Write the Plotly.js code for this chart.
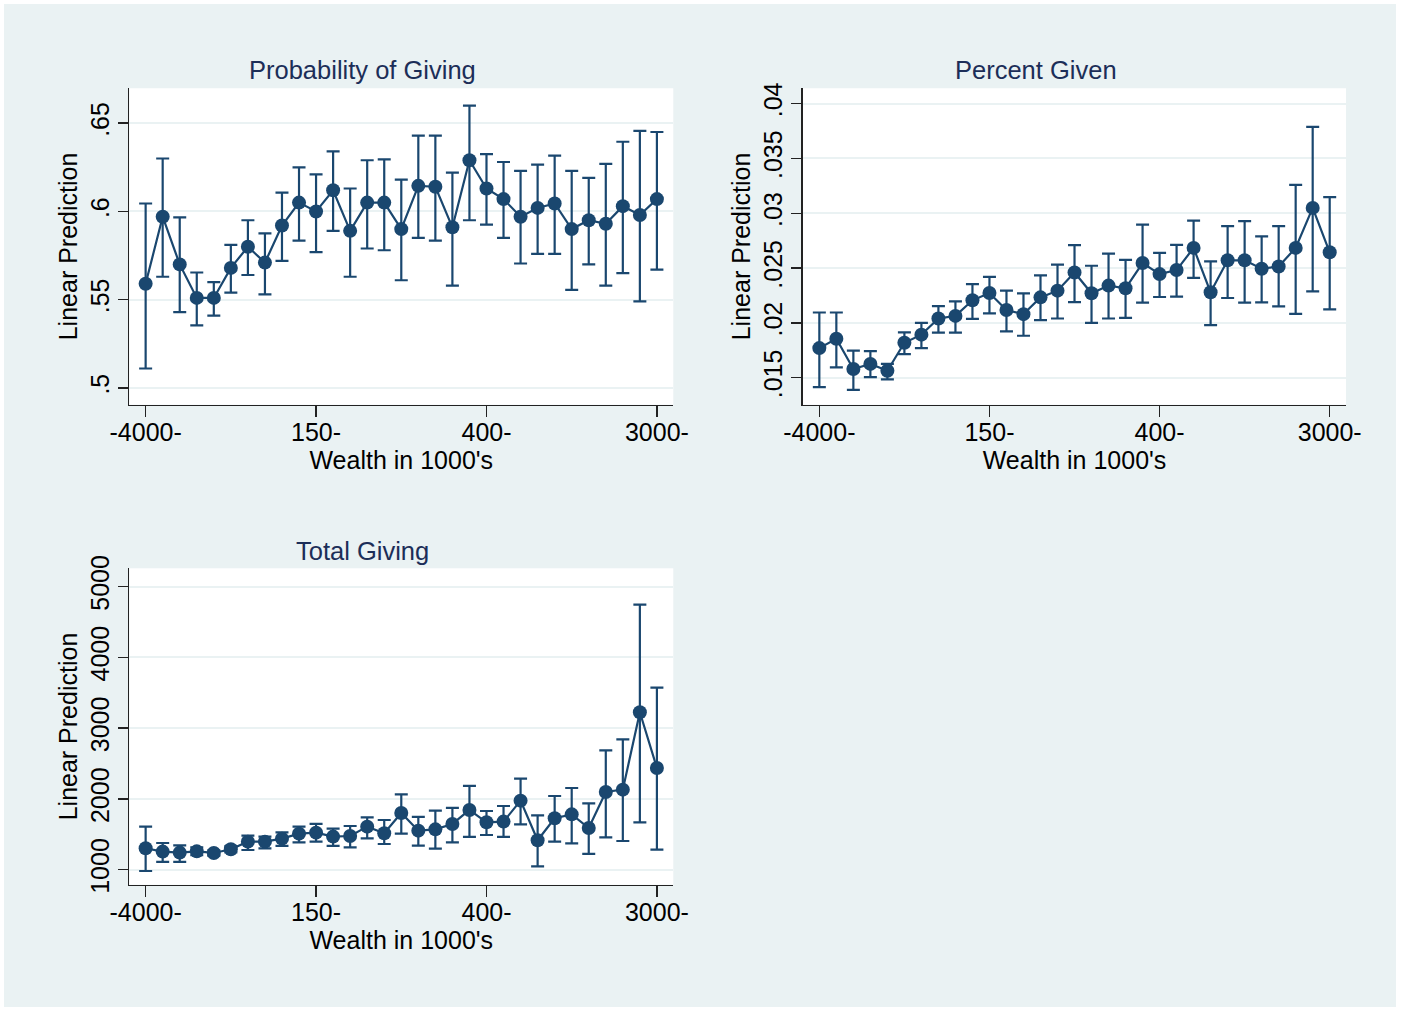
<!DOCTYPE html>
<html><head><meta charset="utf-8">
<script src="https://cdn.plot.ly/plotly-3.0.1.min.js"></script>
<style>
html,body{margin:0;padding:0;background:#ffffff;}
#chart{position:absolute;left:4px;top:4px;width:1392px;height:1003px;}
</style>
</head><body><div id="chart"></div>
<script>
// wealth bins (index positions), labels shown at every 10th bin
const bins = [0,1,2,3,4,5,6,7,8,9,10,11,12,13,14,15,16,17,18,19,20,21,22,23,24,25,26,27,28,29,30];
const tickPos = [0,10,20,30];
const tickLabels = ["-4000-","150-","400-","3000-"];

// Probability of Giving
const probGiving = [0.559,0.597,0.570,0.551,0.551,0.568,0.580,0.571,0.592,0.605,0.600,0.612,0.589,0.605,0.605,0.590,0.6145,0.614,0.591,0.629,0.613,0.607,0.597,0.602,0.6045,0.590,0.595,0.593,0.603,0.598,0.607];
const probLo = [0.511,0.563,0.543,0.5355,0.541,0.554,0.564,0.553,0.572,0.5835,0.577,0.589,0.563,0.579,0.578,0.561,0.585,0.5835,0.558,0.595,0.5925,0.585,0.5705,0.576,0.576,0.5556,0.570,0.558,0.565,0.549,0.567];
const probHi = [0.6045,0.630,0.5966,0.5654,0.560,0.581,0.595,0.5876,0.6107,0.625,0.621,0.634,0.613,0.629,0.6295,0.618,0.643,0.643,0.622,0.660,0.6325,0.628,0.623,0.6265,0.6316,0.623,0.619,0.627,0.6395,0.6457,0.645];
const probTicks = [0.5,0.55,0.6,0.65];
const probTickText = [".5",".55",".6",".65"];

// Percent Given
const pctGiven = [0.0177,0.01856,0.0158,0.01626,0.01564,0.01819,0.01893,0.0204,0.02064,0.02206,0.02273,0.02117,0.0208,0.02233,0.02294,0.0246,0.0227,0.0234,0.02316,0.02546,0.02445,0.02482,0.02684,0.02279,0.02571,0.02571,0.02494,0.02515,0.02684,0.03049,0.02644];
const pctLo = [0.01414,0.01595,0.0139,0.01506,0.01485,0.01715,0.0177,0.01911,0.01911,0.02037,0.02086,0.01923,0.01883,0.02025,0.0204,0.0219,0.0200,0.0204,0.02046,0.02184,0.02236,0.02239,0.02411,0.01979,0.02227,0.02184,0.02187,0.0215,0.02083,0.02288,0.02123];
const pctHi = [0.02095,0.02095,0.01748,0.01742,0.01626,0.01914,0.0200,0.02153,0.02196,0.02353,0.0242,0.02294,0.0227,0.02433,0.02531,0.02709,0.02521,0.02632,0.02574,0.02896,0.02638,0.02712,0.02933,0.02561,0.02883,0.02929,0.0279,0.02883,0.03258,0.03788,0.03147];
const pctTicks = [0.015,0.02,0.025,0.03,0.035,0.04];
const pctTickText = [".015",".02",".025",".03",".035",".04"];

// Total Giving
const totGiving = [1303,1256,1242,1260,1237,1289,1397,1397,1439,1510,1524,1468,1477,1609,1515,1802,1552,1571,1647,1845,1670,1680,1976,1416,1727,1783,1590,2099,2132,3225,2438];
const totLo = [982,1110,1110,1205,1200,1245,1279,1303,1336,1388,1397,1336,1317,1444,1364,1510,1340,1298,1388,1463,1491,1463,1642,1048,1397,1373,1223,1458,1406,1670,1284];
const totHi = [1609,1378,1345,1315,1275,1335,1482,1468,1529,1609,1647,1581,1618,1741,1703,2066,1746,1835,1873,2184,1830,1901,2287,1769,2042,2155,1939,2688,2843,4747,3573];
const totTicks = [1000,2000,3000,4000,5000];
const totTickText = ["1000","2000","3000","4000","5000"];

const panelTitles = ["Probability of Giving","Percent Given","Total Giving"];
const yTitle = "Linear Prediction";
const xTitle = "Wealth in 1000's";

const NAVY = "rgb(26,71,111)";
const FONT = "Liberation Sans, Arial, Helvetica, sans-serif";
const FS = 25;

function series(y, lo, hi, xa, ya) {
  return {
    x: bins, y: y, xaxis: xa, yaxis: ya,
    type: "scatter", mode: "lines+markers",
    line: {color: NAVY, width: 2.2},
    marker: {color: NAVY, size: 14, symbol: "circle"},
    error_y: {
      type: "data", symmetric: false,
      array: hi.map((h, i) => h - y[i]),
      arrayminus: lo.map((l, i) => y[i] - l),
      color: NAVY, thickness: 2.2, width: 6.5
    },
    hoverinfo: "x+y", showlegend: false
  };
}

const data = [
  series(probGiving, probLo, probHi, "x", "y"),
  series(pctGiven, pctLo, pctHi, "x2", "y2"),
  series(totGiving, totLo, totHi, "x3", "y3")
];

function xax(domain, anchor) {
  return {
    domain: domain, anchor: anchor, range: [-0.96, 30.96],
    tickmode: "array", tickvals: tickPos, ticktext: tickLabels,
    ticks: "outside", ticklen: 11, tickwidth: 1.5, tickcolor: "#222",
    showline: true, linecolor: "#222", linewidth: 1.6, mirror: false,
    showgrid: false, zeroline: false, automargin: false,
    tickfont: {family: FONT, size: FS, color: "#000"},
    ticklabelstandoff: -6,
    title: {text: xTitle, font: {family: FONT, size: FS, color: "#000"}, standoff: 5},
    fixedrange: true
  };
}
function yax(domain, anchor, range, tv, tt) {
  return {
    domain: domain, anchor: anchor, range: range,
    tickmode: "array", tickvals: tv, ticktext: tt, tickangle: -90,
    ticks: "outside", ticklen: 10, tickwidth: 1.5, tickcolor: "#222",
    showline: true, linecolor: "#222", linewidth: 1.6, mirror: false,
    showgrid: true, gridcolor: "rgb(234,242,243)", gridwidth: 2,
    zeroline: false, automargin: false,
    tickfont: {family: FONT, size: FS, color: "#000"},
    ticklabelstandoff: -1,
    title: {text: yTitle, font: {family: FONT, size: FS, color: "#000"}, standoff: 1},
    fixedrange: true
  };
}

const TITLE_COLOR = "rgb(28,46,88)";
function ann(text, x, y) {
  return {text: text, x: x, y: y, xref: "paper", yref: "paper",
    xanchor: "center", yanchor: "middle", showarrow: false,
    font: {family: FONT, size: 25.5, color: TITLE_COLOR}};
}

const layout = {
  width: 1392, height: 1003,
  margin: {l: 0, r: 0, t: 0, b: 0, pad: 0},
  paper_bgcolor: "rgb(234,242,243)",
  plot_bgcolor: "#ffffff",
  font: {family: FONT, size: FS, color: "#000"},
  showlegend: false,
  xaxis: xax([0.0900, 0.4808], "y"),
  yaxis: yax([0.6005, 0.9160], "x", [0.4905, 0.6698], probTicks, probTickText),
  xaxis2: xax([0.5740, 0.9641], "y2"),
  yaxis2: yax([0.6005, 0.9160], "x2", [0.01254, 0.0414], pctTicks, pctTickText),
  xaxis3: xax([0.0900, 0.4808], "y3"),
  yaxis3: yax([0.1219, 0.4374], "x3", [788, 5260], totTicks, totTickText),
  annotations: [
    ann(panelTitles[0], 0.2579, 0.9342),
    ann(panelTitles[1], 0.7414, 0.9342),
    ann(panelTitles[2], 0.2579, 0.4546)
  ]
};

Plotly.newPlot("chart", data, layout, {displayModeBar: false, staticPlot: true});
</script>
</body></html>
